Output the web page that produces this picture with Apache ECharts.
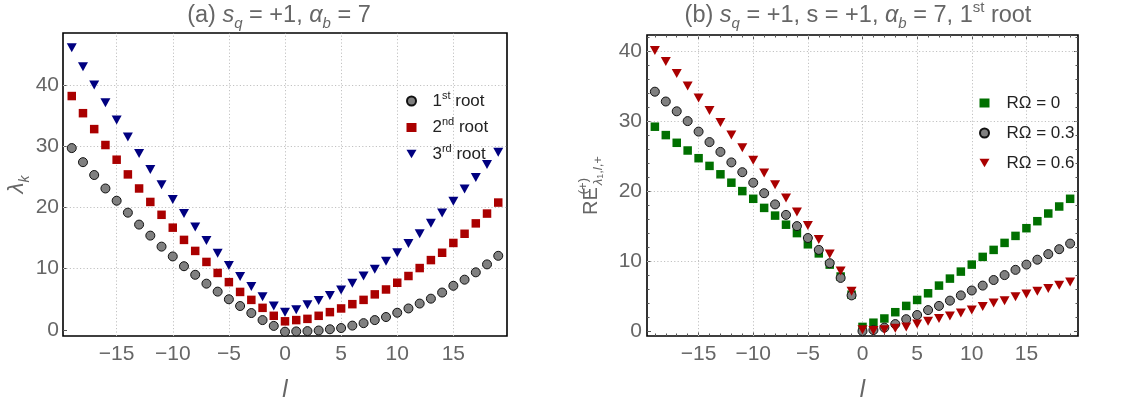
<!DOCTYPE html>
<html>
<head>
<meta charset="utf-8">
<script src="https://cdn.jsdelivr.net/npm/echarts@6/dist/echarts.min.js"></script>
<style>
  html, body { margin: 0; padding: 0; background: #ffffff; }
  #chart { width: 1123px; height: 407px; }
</style>
</head>
<body>
<div id="chart"></div>
<script>
// Angular index l
const ell = [-19, -18, -17, -16, -15, -14, -13, -12, -11, -10, -9, -8, -7, -6, -5, -4, -3, -2, -1,
             0, 1, 2, 3, 4, 5, 6, 7, 8, 9, 10, 11, 12, 13, 14, 15, 16, 17, 18, 19];

// (a) eigenvalues lambda_k for the first three roots
const rootFirst = [29.7, 27.4, 25.3, 23.1, 21.1, 19.15, 17.2, 15.4, 13.6, 12.0, 10.4, 9.0, 7.55, 6.25, 5.0, 3.9, 2.75, 1.6, 0.65,
                   -0.3, -0.25, -0.2, -0.1, 0.1, 0.3, 0.7, 1.1, 1.6, 2.1, 2.8, 3.5, 4.3, 5.1, 6.1, 7.2, 8.2, 9.4, 10.7, 12.1];
const rootSecond = [38.2, 35.4, 32.8, 30.2, 27.8, 25.4, 23.1, 20.9, 18.8, 16.7, 14.7, 12.9, 11.1, 9.3, 7.8, 6.2, 4.9, 3.6, 2.3,
                    1.4, 1.6, 1.8, 2.3, 2.9, 3.5, 4.2, 4.9, 5.8, 6.6, 7.7, 8.8, 10.1, 11.4, 12.6, 14.2, 15.7, 17.4, 19.0, 20.8];
const rootThird = [46.1, 43.0, 40.0, 37.1, 34.3, 31.5, 28.8, 26.2, 23.7, 21.3, 19.0, 16.8, 14.6, 12.5, 10.5, 8.7, 7.1, 5.4, 3.9,
                   2.9, 3.3, 4.1, 4.8, 5.6, 6.5, 7.6, 8.8, 9.9, 11.2, 12.6, 14.1, 15.7, 17.4, 19.1, 21.0, 23.0, 24.9, 27.0, 29.0];

// (b) RE for the first root at three rotation rates
const reOmega0 = [29.2, 28.0, 26.9, 25.8, 24.7, 23.6, 22.4, 21.2, 20.0, 18.9, 17.6, 16.5, 15.2, 14.0, 12.4, 11.1, 9.5, 7.8, 5.2,
                  0.6, 1.2, 1.8, 2.7, 3.6, 4.45, 5.4, 6.5, 7.5, 8.5, 9.5, 10.6, 11.6, 12.6, 13.6, 14.7, 15.7, 16.8, 17.8, 18.9];
const reOmega03 = [34.2, 32.8, 31.4, 30.0, 28.5, 27.0, 25.6, 24.1, 22.7, 21.2, 19.7, 18.1, 16.6, 15.0, 13.3, 11.6, 9.7, 7.6, 5.1,
                   0.0, 0.15, 0.5, 1.0, 1.7, 2.3, 3.0, 3.6, 4.35, 5.1, 5.8, 6.5, 7.3, 8.0, 8.75, 9.5, 10.2, 11.0, 11.7, 12.5];
const reOmega06 = [40.1, 38.5, 36.8, 35.0, 33.3, 31.5, 29.8, 28.0, 26.2, 24.4, 22.6, 20.9, 19.0, 17.0, 15.1, 13.1, 11.0, 8.6, 5.7,
                   0.2, 0.1, 0.2, 0.4, 0.6, 1.0, 1.4, 1.8, 2.15, 2.6, 3.0, 3.5, 4.0, 4.35, 4.9, 5.3, 5.7, 6.1, 6.55, 7.0];

// Tick positions
const xMajor = [-15, -10, -5, 0, 5, 10, 15];
const xMinor = [-19, -18, -17, -16, -14, -13, -12, -11, -9, -8, -7, -6, -4, -3, -2, -1,
                1, 2, 3, 4, 6, 7, 8, 9, 11, 12, 13, 14, 16, 17, 18, 19];
const yMajor = [0, 10, 20, 30, 40];
const yGrid = [10, 20, 30, 40];
const yMinorB = [2, 4, 6, 8, 12, 14, 16, 18, 22, 24, 26, 28, 32, 34, 36, 38, 42];

const FONT = '"Liberation Sans", Arial, Helvetica, sans-serif';
const GREY = '#666666';
const TICK = '#555555';
const RED = '#aa0000';
const NAVY = '#000080';
const GREEN = '#007000';
const DISC = '#808080';
const TRI_DOWN = 'path://M0,0L10,0L5,8.66Z';

const pairs = vals => ell.map((l, i) => [l, vals[i]]);
const withMinus = v => String(v).replace('-', '\u2212');

const richBase = (size) => {
  const small = Math.round(size * 0.64);
  const base = { fontFamily: FONT, color: GREY, fontWeight: 'normal' };
  return {
    n: Object.assign({ fontSize: size, lineHeight: size + 8 }, base),
    i: Object.assign({ fontSize: size, lineHeight: size + 8, fontStyle: 'italic' }, base),
    sub: Object.assign({ fontSize: small, lineHeight: small, fontStyle: 'italic', verticalAlign: 'bottom' }, base),
    subn: Object.assign({ fontSize: small, lineHeight: small, verticalAlign: 'bottom' }, base),
    sup: Object.assign({ fontSize: small, lineHeight: small, verticalAlign: 'top' }, base)
  };
};

function gridLines(xs, ys) {
  return {
    silent: true,
    symbol: ['none', 'none'],
    z: 1,
    animation: false,
    label: { show: false },
    emphasis: { disabled: true },
    lineStyle: { color: '#c2c2c2', width: 1, type: [1.2, 2.2] },
    data: xs.map(v => ({ xAxis: v })).concat(ys.map(v => ({ yAxis: v })))
  };
}

function tickAxis(gridIndex, position, min, max, values, len, extra) {
  return Object.assign({
    type: 'value', gridIndex, position, min, max,
    axisLine: { show: false, onZero: false },
    axisTick: { show: values.length > 0, inside: true, length: len, customValues: values,
                lineStyle: { color: TICK, width: 1 } },
    axisLabel: { show: false },
    splitLine: { show: false }
  }, extra || {});
}

const labelStyle = (margin, vals) => ({
  show: true, customValues: vals, margin, fontFamily: FONT, fontSize: 21, color: GREY,
  formatter: withMinus
});

const XA = [-19.78, 19.78], YA = [-1.0, 48.5];
const XB = [-19.72, 19.72], YB = [-0.7, 42.3];

const circleStyle = { color: DISC, borderColor: '#111', borderWidth: 1, opacity: 1 };

const option = {
  animation: false,
  backgroundColor: '#ffffff',
  title: [
    {
      text: '{n|(a) }{i|s}{sub|q}{n| = +1, }{i|α}{sub|b}{n| = 7}',
      left: 279, top: 0, textAlign: 'center', padding: 0,
      textStyle: { fontWeight: 'normal', rich: richBase(23.5) }
    },
    {
      text: '{n|(b) }{i|s}{sub|q}{n| = +1, s = +1, }{i|α}{sub|b}{n| = 7, 1}{sup|st}{n| root}',
      left: 858, top: 0, textAlign: 'center', padding: 0,
      textStyle: { fontWeight: 'normal', rich: richBase(23.5) }
    }
  ],
  grid: [
    { left: 63, top: 33, width: 444, height: 304, show: true, borderColor: '#000', borderWidth: 1.6,
      backgroundColor: 'transparent', containLabel: false },
    { left: 647, top: 35, width: 431, height: 302, show: true, borderColor: '#000', borderWidth: 1.6,
      backgroundColor: 'transparent', containLabel: false }
  ],
  legend: [
    {
      orient: 'vertical', left: 406, top: 90, padding: 0, itemGap: 7,
      itemWidth: 10, itemHeight: 9, selectedMode: false,
      data: [{ name: '1st root', icon: 'circle' }, { name: '2nd root', icon: 'rect' }, { name: '3rd root', icon: TRI_DOWN }],
      formatter: name => {
        const num = name.slice(0, 1), suf = name.slice(1, 3);
        return '{t|' + num + '}{s|' + suf + '}{t| root}';
      },
      textStyle: {
        padding: [0, 0, 0, 11],
        rich: {
          t: { fontFamily: FONT, fontSize: 17, color: '#222', lineHeight: 22 },
          s: { fontFamily: FONT, fontSize: 11, color: '#222', lineHeight: 11, verticalAlign: 'top' }
        }
      }
    },
    {
      orient: 'vertical', left: 979, top: 92, padding: 0, itemGap: 8,
      itemWidth: 10, itemHeight: 9, selectedMode: false,
      data: [{ name: 'RΩ = 0', icon: 'rect' }, { name: 'RΩ = 0.3', icon: 'circle' }, { name: 'RΩ = 0.6', icon: TRI_DOWN }],
      textStyle: { padding: [0, 0, 0, 12], fontFamily: FONT, fontSize: 17, color: '#222', lineHeight: 22 }
    }
  ],
  xAxis: [
    tickAxis(0, 'bottom', XA[0], XA[1], [], 0, {
      axisLabel: labelStyle(8, xMajor),
      name: 'l', nameLocation: 'middle', nameGap: 42,
      nameTextStyle: { fontFamily: FONT, fontSize: 24, fontStyle: 'italic', color: GREY }
    }),
    tickAxis(1, 'bottom', XB[0], XB[1], xMajor, 4, {
      axisLabel: labelStyle(8, xMajor),
      name: 'l', nameLocation: 'middle', nameGap: 42,
      nameTextStyle: { fontFamily: FONT, fontSize: 24, fontStyle: 'italic', color: GREY }
    }),
    tickAxis(1, 'bottom', XB[0], XB[1], xMinor, 2.5),
    tickAxis(1, 'top', XB[0], XB[1], xMajor, 4),
    tickAxis(1, 'top', XB[0], XB[1], xMinor, 2.5)
  ],
  yAxis: [
    tickAxis(0, 'left', YA[0], YA[1], yMajor, 4, {
      axisLabel: labelStyle(4, yMajor),
      name: '{i|λ}{sub|k}', nameLocation: 'middle', nameGap: 31, nameRotate: 90,
      nameTextStyle: { rich: richBase(22) }
    }),
    tickAxis(1, 'left', YB[0], YB[1], yMajor, 4, {
      axisLabel: labelStyle(5, yMajor),
      name: '{n|RE}{sup|(+)}{sub|λ}{tiny|1}{subn|,}{sub|l}{subn|,+}', nameLocation: 'middle', nameGap: 42, nameRotate: 90,
      nameTextStyle: {
        rich: Object.assign(richBase(20), {
          sup: { fontFamily: FONT, fontSize: 13, color: GREY, lineHeight: 13, verticalAlign: 'top', width: 2 },
          tiny: { fontFamily: FONT, fontSize: 9, color: GREY, lineHeight: 7, verticalAlign: 'bottom' }
        })
      }
    }),
    tickAxis(1, 'left', YB[0], YB[1], yMinorB, 2.5),
    tickAxis(1, 'right', YB[0], YB[1], yMajor, 4),
    tickAxis(1, 'right', YB[0], YB[1], yMinorB, 2.5)
  ],
  series: [
    {
      name: '1st root', type: 'scatter', xAxisIndex: 0, yAxisIndex: 0, z: 3,
      symbol: 'circle', symbolSize: 9, itemStyle: circleStyle,
      data: pairs(rootFirst),
      markLine: gridLines(xMajor, yGrid)
    },
    {
      name: '2nd root', type: 'scatter', xAxisIndex: 0, yAxisIndex: 0, z: 3,
      symbol: 'rect', symbolSize: 8.5, itemStyle: { color: RED, opacity: 1 },
      data: pairs(rootSecond)
    },
    {
      name: '3rd root', type: 'scatter', xAxisIndex: 0, yAxisIndex: 0, z: 3,
      symbol: TRI_DOWN, symbolSize: [10, 9], itemStyle: { color: NAVY, opacity: 1 },
      data: pairs(rootThird)
    },
    {
      name: 'RΩ = 0', type: 'scatter', xAxisIndex: 1, yAxisIndex: 1, z: 3,
      symbol: 'rect', symbolSize: 8.5, itemStyle: { color: GREEN, opacity: 1 },
      data: pairs(reOmega0),
      markLine: gridLines(xMajor, yGrid)
    },
    {
      name: 'RΩ = 0.3', type: 'scatter', xAxisIndex: 1, yAxisIndex: 1, z: 3,
      symbol: 'circle', symbolSize: 9, itemStyle: circleStyle,
      data: pairs(reOmega03)
    },
    {
      name: 'RΩ = 0.6', type: 'scatter', xAxisIndex: 1, yAxisIndex: 1, z: 3,
      symbol: TRI_DOWN, symbolSize: [10, 9], itemStyle: { color: RED, opacity: 1 },
      data: pairs(reOmega06)
    }
  ]
};

const chart = echarts.init(document.getElementById('chart'), null, { renderer: 'canvas' });
chart.setOption(option);
</script>
</body>
</html>
